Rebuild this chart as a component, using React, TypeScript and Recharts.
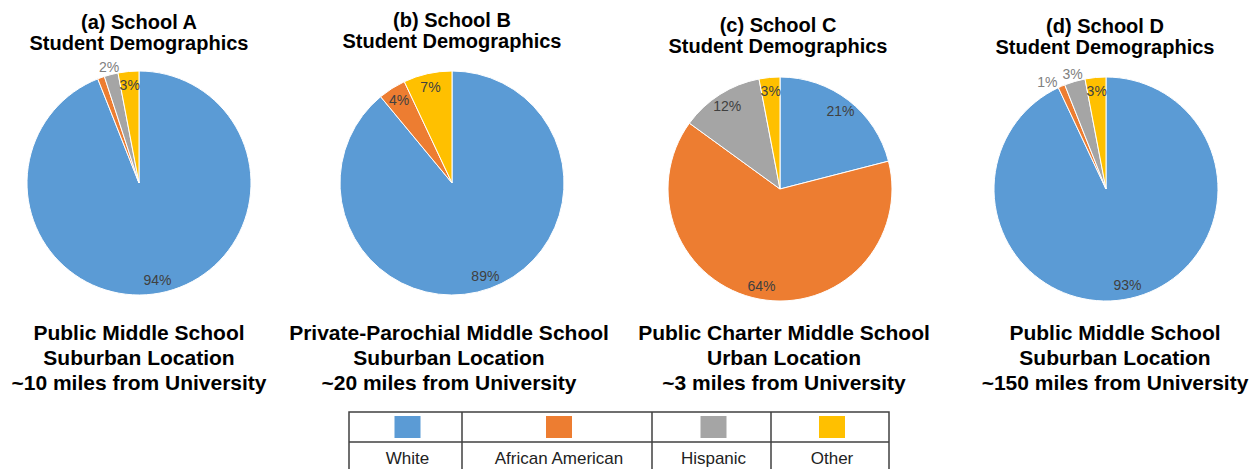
import { PieChart, Pie, Cell } from "recharts"

const categories = ["White", "African American", "Hispanic", "Other"]
const colors = ["#5B9BD5", "#ED7D31", "#A5A5A5", "#FFC000"]

// percent of students per school, same order as categories
const schoolA = [94, 1, 2, 3]
const schoolB = [89, 4, 0, 7]
const schoolC = [21, 64, 12, 3]
const schoolD = [93, 1, 3, 3]

const titles = ["(a) School A", "(b) School B", "(c) School C", "(d) School D"]
const descriptions = [
  ["Public Middle School", "Suburban Location", "~10 miles from University"],
  ["Private-Parochial Middle School", "Suburban Location", "~20 miles from University"],
  ["Public Charter Middle School", "Urban Location", "~3 miles from University"],
  ["Public Middle School", "Suburban Location", "~150 miles from University"],
]

const FONT = "'Liberation Sans', Arial, sans-serif"
const RAD = Math.PI / 180
const R = 112

// layout of each panel: pie center, title baseline, text center, where labels go
const panels = [
  { values: schoolA, cx: 139, cy: 183, titleX: 139, titleY: 29, textX: 139, labels: ["in", "none", "out", "in"] },
  { values: schoolB, cx: 452, cy: 183, titleX: 452, titleY: 27, textX: 449, labels: ["in", "in", "none", "in"] },
  { values: schoolC, cx: 780, cy: 189, titleX: 778, titleY: 32, textX: 784, labels: ["in", "in", "in", "in"] },
  { values: schoolD, cx: 1106, cy: 189, titleX: 1105, titleY: 33, textX: 1115, labels: ["in", "outLeft", "out", "in"] },
]

function makeLabel(modes: string[]) {
  return (p: any) => {
    const mode = modes[p.index]
    if (mode === "none") return null
    const inside = mode === "in"
    const r = inside ? p.outerRadius * 0.88 : p.outerRadius + 8
    let x = p.cx + r * Math.cos(-p.midAngle * RAD)
    let y = p.cy + r * Math.sin(-p.midAngle * RAD)
    if (mode === "outLeft") {
      // pushed aside so it does not run into the next label
      x -= 11
      y += 3
    }
    return (
      <text
        x={x}
        y={y}
        textAnchor="middle"
        dominantBaseline="central"
        fontSize={14}
        fontFamily={FONT}
        fill={inside ? "#404040" : "#808080"}
      >
        {p.value}%
      </text>
    )
  }
}

const legendCols = [
  { x0: 349, x1: 462 },
  { x0: 462, x1: 652 },
  { x0: 652, x1: 771 },
  { x0: 771, x1: 889 },
]

export default function App() {
  return (
    <div style={{ position: "absolute", left: 0, top: 0, width: 1260, height: 469, background: "#fff", overflow: "hidden" }}>
      {panels.map((pn, i) => {
        const data = categories.map((name, k) => ({ name, value: pn.values[k] }))
        return (
          <div key={i} style={{ position: "absolute", left: pn.cx - 160, top: pn.cy - 160 }}>
            <PieChart width={320} height={320} margin={{ top: 0, right: 0, bottom: 0, left: 0 }}>
              <Pie
                data={data}
                dataKey="value"
                cx="50%"
                cy="50%"
                outerRadius={R}
                startAngle={90}
                endAngle={-270}
                stroke="#fff"
                strokeWidth={1}
                labelLine={false}
                label={makeLabel(pn.labels)}
                isAnimationActive={false}
              >
                {data.map((entry, k) => (
                  <Cell key={`cell-${k}`} fill={colors[k]} />
                ))}
              </Pie>
            </PieChart>
          </div>
        )
      })}
      <svg width={1260} height={469} style={{ position: "absolute", left: 0, top: 0, pointerEvents: "none" }}>
        {panels.map((pn, i) => (
          <g key={i} fontFamily={FONT} fontWeight="bold" fill="#000" textAnchor="middle">
            <text x={pn.titleX} y={pn.titleY} fontSize={20}>{titles[i]}</text>
            <text x={pn.titleX} y={pn.titleY + 21} fontSize={20}>Student Demographics</text>
            {descriptions[i].map((line, j) => (
              <text key={j} x={pn.textX} y={340 + j * 25} fontSize={21}>{line}</text>
            ))}
          </g>
        ))}
        <g stroke="#404040" strokeWidth={1.5} fill="none">
          <rect x={349} y={412} width={540} height={80} />
          <line x1={349} y1={442} x2={889} y2={442} />
          {legendCols.slice(1).map((c, i) => (
            <line key={i} x1={c.x0} y1={412} x2={c.x0} y2={469} />
          ))}
        </g>
        {legendCols.map((c, i) => {
          const mid = (c.x0 + c.x1) / 2 + 2
          return (
            <g key={i}>
              <rect x={mid - 13} y={416} width={26} height={22} fill={colors[i]} />
              <text x={mid} y={464} fontSize={17} fontFamily={FONT} fill="#222" textAnchor="middle">{categories[i]}</text>
            </g>
          )
        })}
      </svg>
    </div>
  )
}
